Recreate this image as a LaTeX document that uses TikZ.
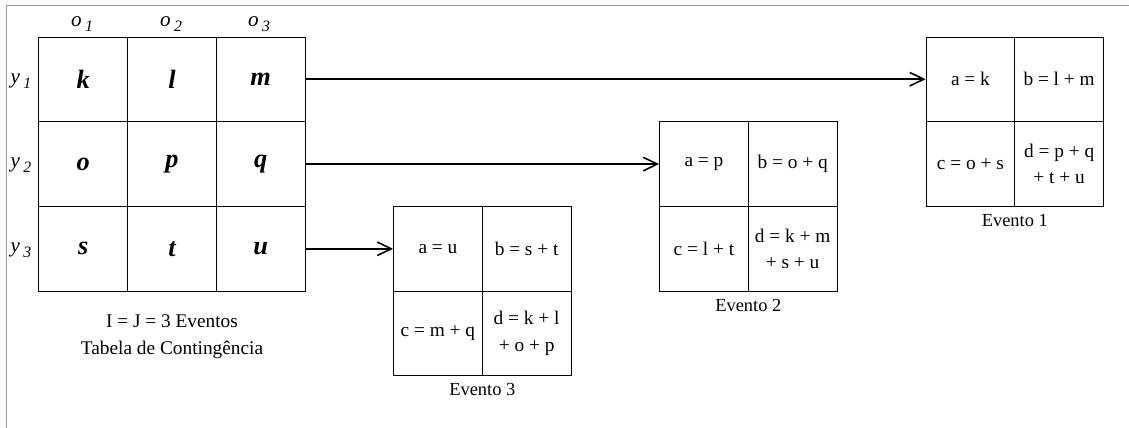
\documentclass[tikz,border=0pt]{standalone}
\usepackage{fontspec}
\setmainfont{Liberation Serif}
\usetikzlibrary{arrows.meta}

\definecolor{moldura}{gray}{0.6}

% indice: letra em italico com o numero abaixado
\newcommand{\ind}[2]{\textit{#1}\,\raisebox{-0.5ex}{\fontsize{9}{9}\selectfont\textit{#2}}}

\begin{document}
\begin{tikzpicture}[x=0.02cm,y=-0.02cm,
  celula/.style={draw, line width=0.5pt, minimum width=1.775cm, minimum height=1.69cm, inner sep=0pt, align=center},
  letra/.style={celula, font=\fontsize{15}{17}\selectfont\bfseries\itshape},
  conta/.style={celula, font=\fontsize{11}{15}\selectfont},
  rotulo/.style={font=\fontsize{11}{15.3}\selectfont, align=center},
  evento/.style={font=\fontsize{10.5}{12}\selectfont},
  indice/.style={font=\fontsize{12}{14}\selectfont},
  seta/.style={line width=0.9pt, -{Straight Barb[length=2.8mm,width=2.7mm]}}
]
\useasboundingbox (0,0) rectangle (1129,428);

% moldura
\draw[moldura, line width=1.1pt] (6.5,428) -- (6.5,5.5) -- (1129,5.5);

% Tabela de contingencia
\node[letra] (k) at (83.3,79.2) {k};
\node[letra] (l) at (172,79.2) {l};
\node[letra] (m) at (260.7,79.2) {m};
\node[letra] (o) at (83.3,164.1) {o};
\node[letra] (p) at (172,164.1) {p};
\node[letra] (q) at (260.7,164.1) {q};
\node[letra] (s) at (83.3,248.8) {s};
\node[letra] (t) at (172,248.8) {t};
\node[letra] (u) at (260.7,248.8) {u};

\node[indice] (o1) at (82,24) {\ind{o}{1}};
\node[indice] (o2) at (171,24) {\ind{o}{2}};
\node[indice] (o3) at (259,24) {\ind{o}{3}};
\node[indice] (y1) at (21,81) {\ind{y}{1}};
\node[indice] (y2) at (21,165.5) {\ind{y}{2}};
\node[indice] (y3) at (21,250) {\ind{y}{3}};

\node[rotulo] (tab) at (172,337) {I = J = 3 Eventos\\Tabela de Contingência};

% Evento 1
\node[conta] (e1a) at (970.4,79.2) {a = k};
\node[conta] (e1b) at (1059.1,79.2) {b = l + m};
\node[conta] (e1c) at (970.4,164.1) {c = o + s};
\node[conta] (e1d) at (1059.1,164.1) {d = p + q\\+ t + u};
\node[evento] (ev1) at (1014.8,221) {Evento 1};

% Evento 2
\node[conta] (e2a) at (703.9,164.1) {a = p};
\node[conta] (e2b) at (792.6,164.1) {b = o + q};
\node[conta] (e2c) at (703.9,248.8) {c = l + t};
\node[conta] (e2d) at (792.6,248.8) {d = k + m\\+ s + u};
\node[evento] (ev2) at (748.3,305) {Evento 2};

% Evento 3
\node[conta] (e3a) at (437.9,248.8) {a = u};
\node[conta] (e3b) at (526.6,248.8) {b = s + t};
\node[conta] (e3c) at (437.9,333.2) {c = m + q};
\node[conta] (e3d) at (526.6,333.2) {d = k + l\\+ o + p};
\node[evento] (ev3) at (482.3,389) {Evento 3};

% setas
\draw[seta] (m.east) -- (e1a.west);
\draw[seta] (q.east) -- (e2a.west);
\draw[seta] (u.east) -- (e3a.west);

\end{tikzpicture}
\end{document}
